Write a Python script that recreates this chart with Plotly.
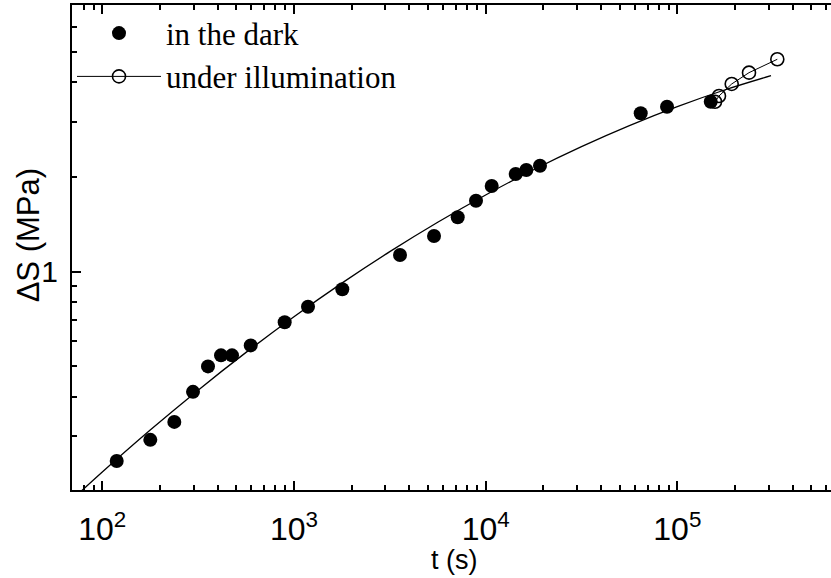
import plotly.graph_objects as go

# ---- data ----
dark_t = [118.9, 178.0, 237.5, 297.3, 356.0, 416.2, 475.0, 594.8, 894.4, 1183.6,
          1787, 3574, 5379, 7149, 8906, 10755, 14350, 16300, 19210,
          64420, 88370, 149400]
dark_s = [0.250, 0.292, 0.333, 0.415, 0.500, 0.542, 0.542, 0.583, 0.691, 0.774,
          0.879, 1.130, 1.299, 1.489, 1.682, 1.873, 2.045, 2.106, 2.173,
          3.189, 3.346, 3.471]

illum_t = [157300, 165000, 192200, 236600, 332400]
illum_s = [3.471, 3.62, 3.953, 4.294, 4.736]

fit_t = [63.1, 100, 177.8, 316.2, 562.3, 1000, 1778, 3162, 5623, 10000,
         17783, 31623, 56234, 100000, 177828, 308200]
fit_s = [0.1785, 0.2307, 0.3136, 0.4201, 0.5539, 0.7191, 0.9196, 1.158, 1.436, 1.754,
         2.110, 2.499, 2.915, 3.349, 3.789, 4.201]

x_major = [100, 1000, 10000, 100000]
x_major_text = ["10<sup>2</sup>", "10<sup>3</sup>", "10<sup>4</sup>", "10<sup>5</sup>"]
y_major = [1]
y_major_text = ["1"]

x_minor = [m * 10 ** e for e in range(1, 6) for m in range(2, 10)]
y_minor = [0.2, 0.3, 0.4, 0.5, 0.6, 0.7, 0.8, 0.9, 2, 3, 4, 5, 6, 7]

fig = go.Figure()

fig.add_trace(go.Scatter(
    x=fit_t, y=fit_s, mode="lines", line=dict(color="black", width=1.3, shape="spline"),
    showlegend=False, hoverinfo="skip"))

fig.add_trace(go.Scatter(
    x=dark_t, y=dark_s, mode="markers", name="in the dark",
    marker=dict(symbol="circle", size=14, color="black", line=dict(width=0))))

fig.add_trace(go.Scatter(
    x=illum_t, y=illum_s, mode="lines+markers", name="under illumination",
    line=dict(color="black", width=1),
    marker=dict(symbol="circle-open", size=13, color="black", line=dict(width=1.6))))

sans = "Liberation Sans, Arial, sans-serif"
serif = "Liberation Serif, Times New Roman, serif"

fig.update_xaxes(
    type="log", range=[1.8419, 5.8018],
    showline=True, linecolor="black", linewidth=2, mirror="ticks",
    ticks="inside", ticklen=9, tickwidth=1.5, tickcolor="black",
    tickmode="array", tickvals=x_major, ticktext=x_major_text,
    tickfont=dict(family=sans, size=32, color="black"), ticklabelstandoff=10,
    minor=dict(ticks="inside", ticklen=5, tickwidth=1.5, tickcolor="black",
               tickmode="array", tickvals=x_minor, showgrid=False),
    showgrid=False, zeroline=False)

fig.update_yaxes(
    type="log", range=[-0.6941, 0.848],
    showline=True, linecolor="black", linewidth=2,
    ticks="inside", ticklen=9, tickwidth=1.5, tickcolor="black",
    tickmode="array", tickvals=y_major, ticktext=y_major_text,
    tickfont=dict(family=sans, size=30, color="black"), ticklabelstandoff=6,
    minor=dict(ticks="inside", ticklen=5, tickwidth=1.5, tickcolor="black",
               tickmode="array", tickvals=y_minor, showgrid=False),
    showgrid=False, zeroline=False)

fig.add_annotation(text="t (s)", xref="paper", yref="paper", x=0.504, y=-0.144,
                   xanchor="center", yanchor="middle", showarrow=False,
                   font=dict(family=sans, size=27, color="black"))
fig.add_annotation(text="ΔS (MPa)", xref="paper", yref="paper", x=-0.058, y=0.525,
                   xanchor="center", yanchor="middle", showarrow=False, textangle=-90,
                   font=dict(family=sans, size=31, color="black"))

fig.update_layout(
    width=831, height=578,
    margin=dict(l=72, r=0, t=5, b=88),
    plot_bgcolor="white", paper_bgcolor="white",
    legend=dict(x=0.0, y=0.997, xanchor="left", yanchor="top",
                bgcolor="rgba(0,0,0,0)", itemwidth=84,
                font=dict(family=serif, size=31, color="black")),
)

fig.write_html("out.html")
